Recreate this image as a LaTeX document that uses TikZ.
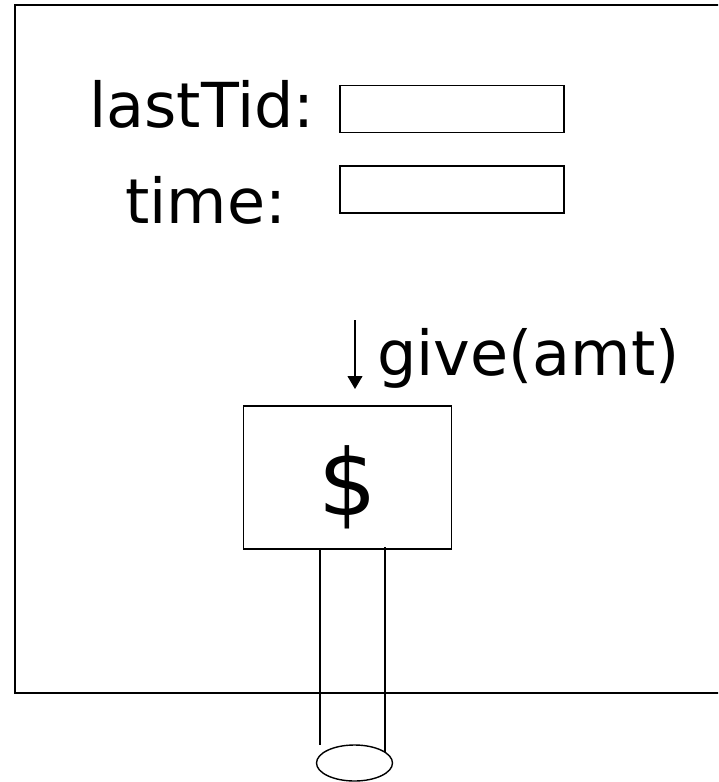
\documentclass[tikz,border=0pt]{standalone}
\usepackage{fontspec}
\setmainfont{DejaVu Sans}
\usetikzlibrary{arrows.meta,shapes.geometric}
\begin{document}
\begin{tikzpicture}[x=1pt,y=-1pt,
  frame/.style={draw,line width=1.6pt},
  field/.style={draw,line width=1.6pt,minimum width=224pt,minimum height=47pt,inner sep=0pt},
  label/.style={inner sep=0pt,font=\fontsize{62}{70}\selectfont},
  pipe/.style={draw,line width=1.1pt},
  callarrow/.style={line width=1.1pt,-{Triangle[width=15pt,length=13pt]}}]
\useasboundingbox (0,0) rectangle (718,782);
\begin{scope}
\clip (0,0) rectangle (718,782);
\draw[frame] (15,5) rectangle (730,693);
\end{scope}
\node[field] (lastbox) at (452,109) {};
\node[field] (timebox) at (452,189.5) {};
\node[label,anchor=base west] (lastlbl) at (89,127) {lastTid:};
\node[label,anchor=base west] (timelbl) at (125,223) {time:};
\node[label,anchor=base west] (givelbl) at (377,375) {give(amt)};
\coordinate (arrtop) at (355,320);
\coordinate (arrtip) at (355,389);
\draw[callarrow] (arrtop) -- (arrtip);
\node[draw,line width=1.4pt,minimum width=208pt,minimum height=143pt,inner sep=0pt] (money) at (347.5,477.5) {};
\node[inner sep=0pt,font=\fontsize{92}{100}\selectfont] (dollar) at (348,487) {\$};
\node[draw,ellipse,line width=1.4pt,minimum width=76pt,minimum height=36pt,inner sep=0pt] (ell) at (354.5,763) {};
\coordinate (pl1) at (320,549);
\coordinate (pl2) at (320,745);
\coordinate (pr1) at (385,547);
\coordinate (pr2) at (385,752);
\draw[pipe] (pl1) -- (pl2);
\draw[pipe] (pr1) -- (pr2);
\end{tikzpicture}
\end{document}
